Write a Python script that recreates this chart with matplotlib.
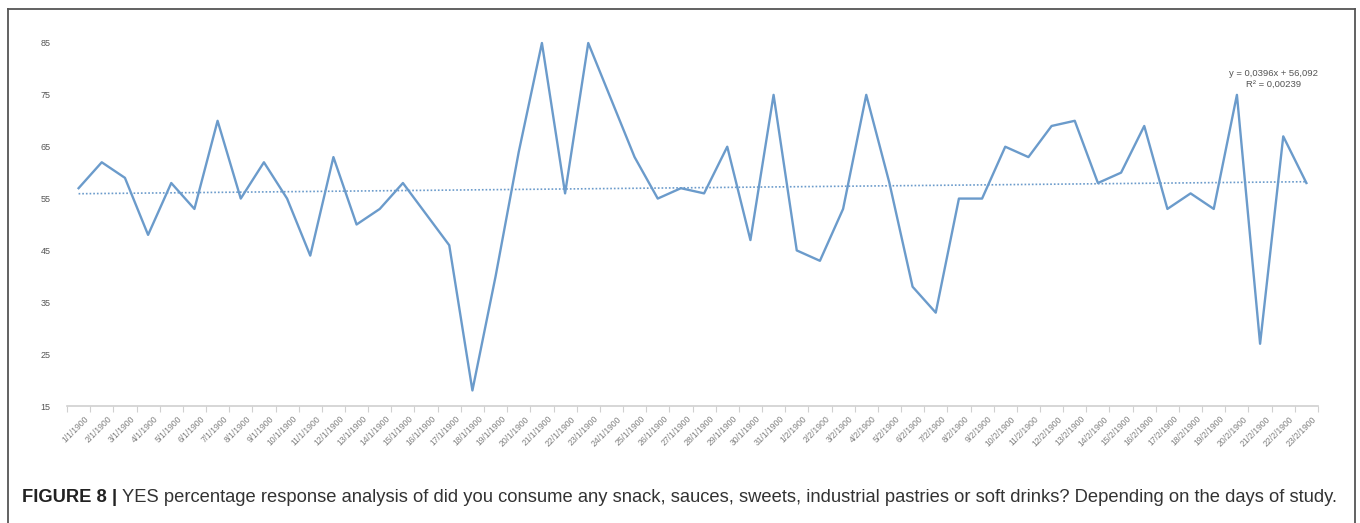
import numpy as np
import matplotlib
matplotlib.use('Agg')
import matplotlib.pyplot as plt
from matplotlib.lines import Line2D

plt.rcParams['font.family'] = ['Liberation Sans', 'DejaVu Sans']

# days of study
days = ['%d/1/1900' % d for d in range(1, 32)] + ['%d/2/1900' % d for d in range(1, 24)]
# YES percentage
yes_pct = [57, 62, 59, 48, 58, 53, 70, 55, 62, 55,
           44, 63, 50, 53, 58, 52, 46, 18, 40, 64,
           85, 56, 85, 74, 63, 55, 57, 56, 65, 47,
           75, 45, 43, 53, 75, 58, 38, 33, 55, 55,
           65, 63, 69, 70, 58, 60, 69, 53, 56, 53,
           75, 27, 67, 58]
y_ticks = [15, 25, 35, 45, 55, 65, 75, 85]
trend_label = 'y = 0,0396x + 56,092\nR² = 0,00239'

W, H = 1360, 523
fig = plt.figure(figsize=(W / 100, H / 100), dpi=100)
ax = fig.add_axes([67 / W, 117 / H, (1318 - 67) / W, (480 - 117) / H])

x = np.arange(len(yes_pct))
line_col = '#6b9bcb'
ax.plot(x, yes_pct, color=line_col, lw=1.7, clip_on=False)

# linear trend (excel style dotted)
k, b = np.polyfit(x + 1, yes_pct, 1)
ax.plot(x, k * (x + 1) + b, color=line_col, lw=1.2, ls=(0, (1, 1.2)))

ax.text(51.6, 78.1, trend_label, ha='center', va='center', fontsize=6.8,
        color='#555555', linespacing=1.3)

ax.set_xlim(-0.5, len(yes_pct) - 0.5)
ax.set_ylim(15, 85)
ax.set_yticks(y_ticks)
ax.set_yticklabels([str(t) for t in y_ticks], fontsize=6.5, color='#555555')
ax.tick_params(axis='y', length=0, pad=12)

ax.set_xticks(x + 0.25)
ax.set_xticklabels(days, rotation=45, ha='right', rotation_mode='anchor',
                   fontsize=6.2, color='#808080')
ax.tick_params(axis='x', which='major', length=0, pad=6)
ax.set_xticks(np.arange(-0.5, len(yes_pct)), minor=True)
ax.tick_params(axis='x', which='minor', length=4, color='#d0d0d0', width=0.8)

for s in ['top', 'right', 'left']:
    ax.spines[s].set_visible(False)
ax.spines['bottom'].set_color('#d0d0d0')
ax.spines['bottom'].set_linewidth(1.2)

# frame round the figure panel (open at the bottom)
bc = '#555555'
fig.add_artist(Line2D([8 / W, 8 / W], [0, 1 - 9 / H], color=bc, lw=1.3))
fig.add_artist(Line2D([8 / W, 1355 / W], [1 - 9 / H, 1 - 9 / H], color=bc, lw=1.3))
fig.add_artist(Line2D([1355 / W, 1355 / W], [0, 1 - 9 / H], color=bc, lw=1.3))

# caption
cap_y = 1 - 498 / H
t1 = fig.text(22 / W, cap_y, 'FIGURE 8 | ', fontsize=13.25, fontweight='bold',
              color='#222222', va='center')
fig.canvas.draw()
bb = t1.get_window_extent()
fig.text(bb.x1 / W, cap_y,
         'YES percentage response analysis of did you consume any snack, sauces, sweets, '
         'industrial pastries or soft drinks? Depending on the days of study.',
         fontsize=13.25, color='#333333', va='center')

fig.savefig('out.png', dpi=100)
